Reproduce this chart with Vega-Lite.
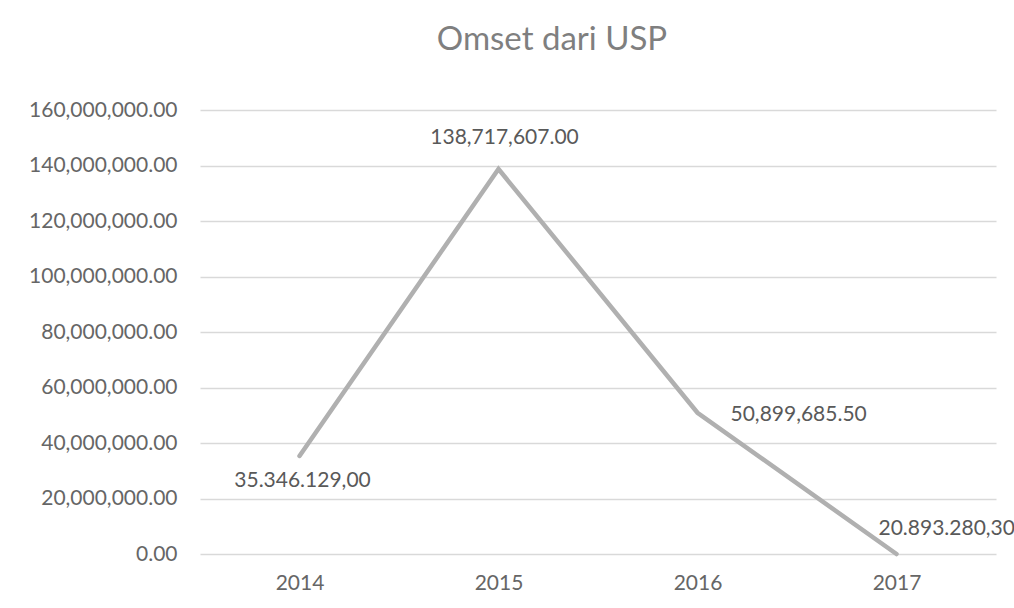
{
  "$schema": "https://vega.github.io/schema/vega-lite/v6.json",
  "autosize": {"type": "none"},
  "width": 796,
  "height": 444,
  "padding": {"left": 200, "top": 110, "right": 18, "bottom": 54},
  "background": "white",
  "config": {
    "view": {"stroke": null},
    "font": "Lato"
  },
  "title": {
    "text": "Omset dari USP",
    "fontSize": 33,
    "fontWeight": "normal",
    "color": "#7f7f7f",
    "font": "Lato",
    "anchor": "middle",
    "dx": -46,
    "offset": 42
  },
  "data": {
    "values": [
      {"tahun": "2014", "omset": 35346129, "label": "35.346.129,00"},
      {"tahun": "2015", "omset": 138717607, "label": "138,717,607.00"},
      {"tahun": "2016", "omset": 50899685.5, "label": "50,899,685.50"},
      {"tahun": "2017", "omset": 0, "label": "20.893.280,30"}
    ]
  },
  "encoding": {
    "x": {
      "field": "tahun",
      "type": "ordinal",
      "scale": {"type": "point", "padding": 0.5},
      "axis": {
        "title": null,
        "labelAngle": 0,
        "domain": false,
        "ticks": false,
        "labelFontSize": 21,
        "labelColor": "#666666",
        "labelPadding": 18,
        "labelFont": "Lato"
      }
    },
    "y": {
      "field": "omset",
      "type": "quantitative",
      "scale": {"domain": [0, 160000000], "nice": false},
      "axis": {
        "title": null,
        "values": [0, 20000000, 40000000, 60000000, 80000000, 100000000, 120000000, 140000000, 160000000],
        "format": ",.2f",
        "domain": false,
        "ticks": false,
        "labelFontSize": 21,
        "labelColor": "#666666",
        "labelPadding": 23,
        "labelFont": "Lato",
        "gridColor": "#d9d9d9",
        "gridWidth": 1.5
      }
    }
  },
  "layer": [
    {
      "mark": {"type": "line", "color": "#b0b0b0", "strokeWidth": 4.5, "strokeCap": "round"}
    },
    {
      "transform": [{"filter": "datum.tahun == '2014'"}],
      "mark": {"type": "text", "fontSize": 21, "color": "#595959", "align": "center", "baseline": "middle", "dy": 25, "dx": 3},
      "encoding": {"text": {"field": "label"}}
    },
    {
      "transform": [{"filter": "datum.tahun == '2015'"}],
      "mark": {"type": "text", "fontSize": 21, "color": "#595959", "align": "center", "baseline": "middle", "dy": -31, "dx": 6},
      "encoding": {"text": {"field": "label"}}
    },
    {
      "transform": [{"filter": "datum.tahun == '2016'"}],
      "mark": {"type": "text", "fontSize": 21, "color": "#595959", "align": "left", "baseline": "middle", "dy": 2, "dx": 33},
      "encoding": {"text": {"field": "label"}}
    },
    {
      "transform": [{"filter": "datum.tahun == '2017'"}],
      "mark": {"type": "text", "fontSize": 21, "color": "#595959", "align": "left", "baseline": "middle", "dy": -25, "dx": -18},
      "encoding": {"text": {"field": "label"}}
    }
  ]
}
